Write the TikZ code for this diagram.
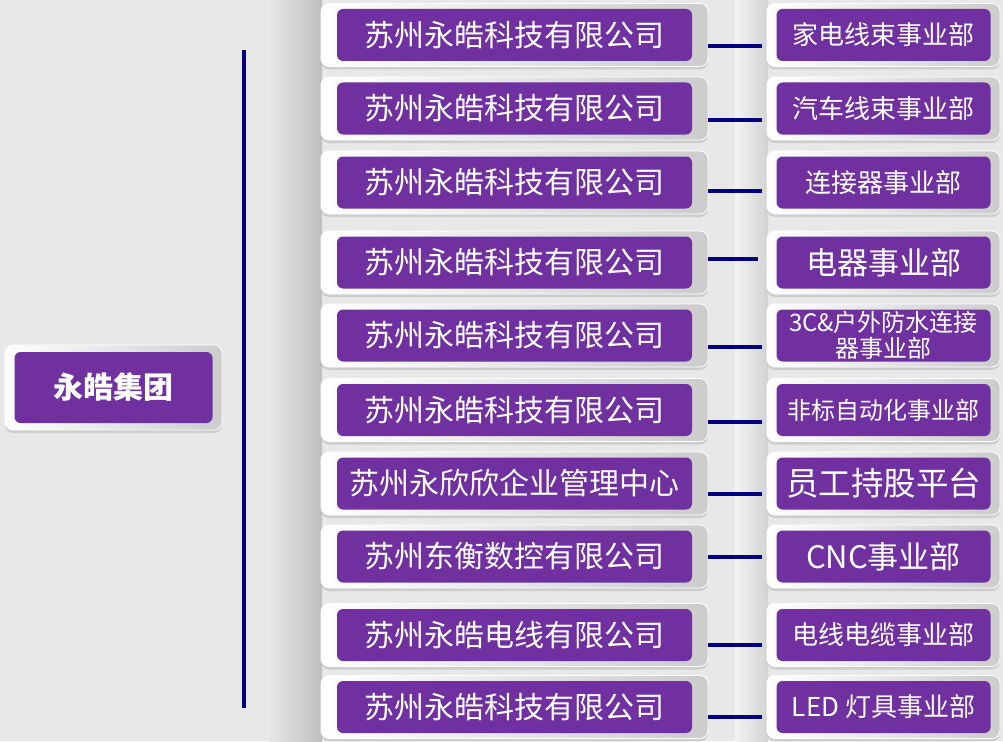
\documentclass[tikz,border=0pt]{standalone}
\usepackage{fontspec}
\setmainfont{Noto Sans CJK SC}
\usetikzlibrary{shadows}
\definecolor{boxpurple}{HTML}{7030A0}
\definecolor{linknavy}{HTML}{000080}
\definecolor{bggray}{HTML}{E8E8E8}
\definecolor{framegray}{HTML}{CCCCCC}
\tikzset{
  frame/.style={rounded corners=8pt,left color=white,right color=framegray,draw=white,line width=.8pt,
    drop shadow={opacity=.25,shadow xshift=0pt,shadow yshift=-3pt},
    text=white,inner sep=0pt,align=center},
  inset/.style 2 args={path picture={\fill[boxpurple,rounded corners=6pt]
    ([shift={(#1,-#2)}]path picture bounding box.north west) rectangle
    ([shift={(-#1,#2)}]path picture bounding box.south east);}},
  rootbox/.style={frame,inset={9.5pt}{7pt},minimum width=217pt,minimum height=85pt,
    font=\fontsize{30}{33}\bfseries\selectfont},
  cobox/.style={frame,inset={16pt}{5.5pt},minimum width=387pt,minimum height=63pt,
    font=\fontsize{30}{33}\selectfont},
  unitbox/.style={frame,inset={9.5pt}{5.5pt},minimum width=233pt,minimum height=63pt,
    font=\fontsize{26}{29}\selectfont},
  link/.style={draw=linknavy,line width=3.4pt,line cap=butt,shorten >=5pt},
  spine/.style={draw=linknavy,line width=3.6pt,line cap=butt}
}
\begin{document}
\begin{tikzpicture}[x=1pt,y=-1pt,line join=round]
  \useasboundingbox (0,0) rectangle (1003,741);
  % background with the darker band left of the companies
  \fill[bggray] (0,0) rectangle (1003,741);
  \shade[left color=bggray,right color=gray!50] (268,0) rectangle (322,741);
  \shade[left color=bggray!50!white,right color=gray!35] (735,0) rectangle (768,741);

  \node[rootbox] (G) at (113.5,387.5) {永皓集团};
  \coordinate (S1) at (244,50);
  \coordinate (S2) at (244,708);
  \draw[spine] (S1)--(S2);

  % companies at left, business units at right
  \node[cobox] (L1) at (514.5,35) {苏州永皓科技有限公司};
  \node[cobox] (L2) at (514.5,108.5) {苏州永皓科技有限公司};
  \node[cobox] (L3) at (514.5,182.5) {苏州永皓科技有限公司};
  \node[cobox] (L4) at (514.5,262.5) {苏州永皓科技有限公司};
  \node[cobox] (L5) at (514.5,335.5) {苏州永皓科技有限公司};
  \node[cobox] (L6) at (514.5,410) {苏州永皓科技有限公司};
  \node[cobox] (L7) at (514.5,483.5) {苏州永欣欣企业管理中心};
  \node[cobox] (L8) at (514.5,556.5) {苏州东衡数控有限公司};
  \node[cobox] (L9) at (514.5,635) {苏州永皓电线有限公司};
  \node[cobox] (L10) at (514.5,707) {苏州永皓科技有限公司};

  \node[unitbox] (R1) at (883.5,35) {家电线束事业部};
  \node[unitbox] (R2) at (883.5,108.5) {汽车线束事业部};
  \node[unitbox] (R3) at (883.5,182.5) {连接器事业部};
  \node[unitbox,font=\fontsize{31}{34}\selectfont] (R4) at (883.5,262.5) {电器事业部};
  \node[unitbox,font=\fontsize{24}{26}\selectfont] (R5) at (883.5,335.5) {3C\&户外防水连接\\器事业部};
  \node[unitbox,font=\fontsize{24}{27}\selectfont] (R6) at (883.5,410) {非标自动化事业部};
  \node[unitbox,font=\fontsize{32.5}{35}\selectfont] (R7) at (883.5,483.5) {员工持股平台};
  \node[unitbox,font=\fontsize{31}{34}\selectfont] (R8) at (883.5,556.5) {CNC事业部};
  \node[unitbox] (R9) at (883.5,635) {电线电缆事业部};
  \node[unitbox] (R10) at (883.5,707) {LED 灯具事业部};

  \draw[link] ([yshift=-11pt]L1.east)--([yshift=-11pt]R1.west);
  \draw[link] ([yshift=-11.5pt]L2.east)--([yshift=-11.5pt]R2.west);
  \draw[link] ([yshift=-8.5pt]L3.east)--([yshift=-8.5pt]R3.west);
  \draw[link,shorten >=9pt] ([yshift=3.5pt]L4.east)--([yshift=3.5pt]R4.west);
  \draw[link] ([yshift=-11.5pt]L5.east)--([yshift=-11.5pt]R5.west);
  \draw[link] ([yshift=-12pt]L6.east)--([yshift=-12pt]R6.west);
  \draw[link] ([yshift=-10.5pt]L7.east)--([yshift=-10.5pt]R7.west);
  \draw[link] ([yshift=-.5pt]L8.east)--([yshift=-.5pt]R8.west);
  \draw[link] ([yshift=-10pt]L9.east)--([yshift=-10pt]R9.west);
  \draw[link] ([yshift=-10pt]L10.east)--([yshift=-10pt]R10.west);
\end{tikzpicture}
\end{document}
